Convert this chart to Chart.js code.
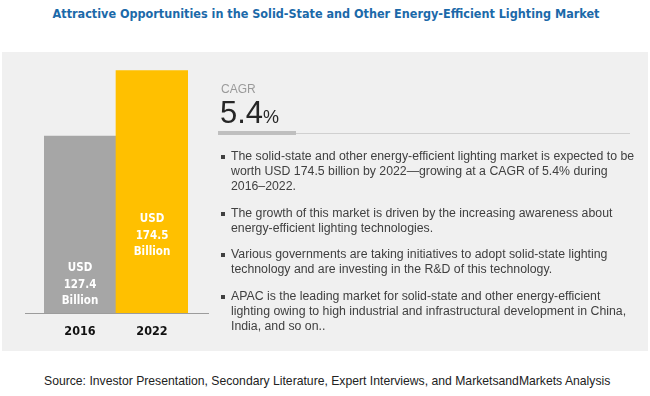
<!DOCTYPE html>
<html>
<head>
<meta charset="utf-8">
<script src="https://cdn.jsdelivr.net/npm/chart.js@4.4.1/dist/chart.umd.min.js"></script>
<style>
  html, body { margin: 0; padding: 0; background: #ffffff; }
  #page { position: relative; width: 650px; height: 396px; overflow: hidden; font-family: 'Liberation Sans', Arial, sans-serif; }
  .abs { position: absolute; white-space: nowrap; }
  #title { left: 0; width: 652px; top: 7px; text-align: center; font-family: 'DejaVu Sans Condensed', sans-serif; font-weight: bold; font-size: 12.5px; line-height: 13px; color: #1b69a9; }
  #panel { left: 2px; top: 52px; width: 646px; height: 299px; background: #f0f0f0; }
  #barBox { left: 0; top: 52px; width: 230px; height: 299px; }
  #cagrLabel { left: 221px; top: 83px; font-size: 12px; line-height: 12px; color: #9a9a9a; }
  #cagrValue { left: 220px; top: 97px; font-size: 31px; line-height: 31px; color: #262626; }
  #cagrValue span { font-size: 18px; }
  #cagrBar { left: 218px; top: 131px; width: 78px; height: 4px; background: #bfbfbf; }
  #cagrLine { left: 296px; top: 133px; width: 334px; height: 1px; background: #d0d0d0; }
  #bullets { left: 221px; top: 149px; margin: 0; padding: 0; list-style: none; font-size: 12.3px; line-height: 15px; color: #404040; }
  #bullets li { position: relative; padding-left: 10px; margin-bottom: 11.5px; }
  #bullets li::before { content: ''; position: absolute; left: 0; top: 6px; width: 4px; height: 4px; background: #404040; }
  #source { left: 44px; top: 375px; font-size: 12.2px; line-height: 13px; color: #222222; }
</style>
</head>
<body>
<div id="page">
  <div id="panel" class="abs"></div>
  <div id="title" class="abs">Attractive Opportunities in the Solid-State and Other Energy-Efficient Lighting Market</div>
  <div id="barBox" class="abs"><canvas id="graficoMercado"></canvas></div>
  <div id="cagrLabel" class="abs">CAGR</div>
  <div id="cagrValue" class="abs">5.4<span>%</span></div>
  <div id="cagrBar" class="abs"></div>
  <div id="cagrLine" class="abs"></div>
  <ul id="bullets" class="abs">
    <li>The solid-state and other energy-efficient lighting market is expected to be<br>worth USD 174.5 billion by 2022—growing at a CAGR of 5.4% during<br>2016–2022.</li>
    <li>The growth of this market is driven by the increasing awareness about<br>energy-efficient lighting technologies.</li>
    <li>Various governments are taking initiatives to adopt solid-state lighting<br>technology and are investing in the R&amp;D of this technology.</li>
    <li>APAC is the leading market for solid-state and other energy-efficient<br>lighting owing to high industrial and infrastructural development in China,<br>India, and so on..</li>
  </ul>
  <div id="source" class="abs">Source: Investor Presentation, Secondary Literature, Expert Interviews, and MarketsandMarkets Analysis</div>
</div>
<script>
/* Datos del gráfico */
var years = ['2016', '2022'];
var marketValues = [127.4, 174.5];          /* USD billones */
var valueLabels = [['USD', '127.4', 'Billion'], ['USD', '174.5', 'Billion']];
var barColors = ['#a6a6a6', '#ffc000'];

var narrowFont = "'DejaVu Sans Condensed', sans-serif";

/* Línea base más ancha que las barras */
var baseLinePlugin = {
    id: 'baseLine',
    afterDatasetsDraw: function (chart, args, opts) {
        var ctx = chart.ctx;
        var y = Math.round(chart.scales.y.getPixelForValue(0)) + 0.5;
        ctx.save();
        ctx.strokeStyle = '#9c9c9c';
        ctx.lineWidth = 1;
        ctx.beginPath();
        ctx.moveTo(chart.chartArea.left - opts.extendLeft, y);
        ctx.lineTo(chart.chartArea.right + opts.extendRight, y);
        ctx.stroke();
        ctx.restore();
    }
};

/* Etiquetas blancas dentro de cada barra */
var barTextPlugin = {
    id: 'barText',
    afterDatasetsDraw: function (chart, args, opts) {
        var ctx = chart.ctx;
        var meta = chart.getDatasetMeta(0);
        ctx.save();
        ctx.fillStyle = '#ffffff';
        ctx.font = 'bold 11.5px ' + narrowFont;
        ctx.textAlign = 'center';
        ctx.textBaseline = 'middle';
        meta.data.forEach(function (bar, i) {
            var lines = valueLabels[i];
            var cy = bar.base - opts.anchor[i] * (bar.base - bar.y);
            lines.forEach(function (txt, j) {
                ctx.fillText(txt, bar.x, cy + (j - 1) * opts.lineGap);
            });
        });
        ctx.restore();
    }
};

function crearGraficoMercado() {
    var canvas = document.getElementById('graficoMercado');
    new Chart(canvas, {
        type: 'bar',
        data: {
            labels: years,
            datasets: [{
                data: marketValues,
                backgroundColor: barColors,
                barPercentage: 1,
                categoryPercentage: 1
            }]
        },
        options: {
            responsive: true,
            maintainAspectRatio: false,
            devicePixelRatio: 1,
            animation: false,
            layout: { padding: { left: 44, right: 42, top: 11, bottom: 1 } },
            plugins: {
                legend: { display: false },
                tooltip: { enabled: false },
                baseLine: { extendLeft: 19, extendRight: 21 },
                barText: { anchor: [0.16, 0.319], lineGap: 16.7 }
            },
            scales: {
                x: {
                    grid: { display: false, drawTicks: false },
                    border: { display: false },
                    ticks: { color: '#111111', padding: 11, font: { family: narrowFont, size: 12.5, weight: 'bold' } }
                },
                y: { display: false, min: 0, max: 180 }
            }
        },
        plugins: [baseLinePlugin, barTextPlugin]
    });
}

crearGraficoMercado();
</script>
</body>
</html>
